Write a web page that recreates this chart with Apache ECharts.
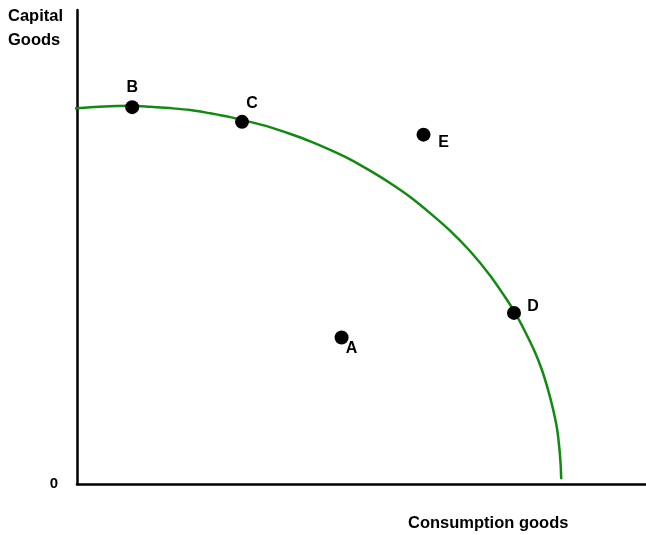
<!DOCTYPE html>
<html>
<head>
<meta charset="utf-8">
<script src="https://cdn.jsdelivr.net/npm/echarts@6/dist/echarts.min.js"></script>
<style>
html,body{margin:0;padding:0;background:#fff;}
#chart{width:646px;height:535px;}
</style>
</head>
<body>
<div id="chart"></div>
<script>
// Production possibility frontier (axes 0-100)
const curveX = [-0.5, 2.3, 5.8, 9.7, 12.8, 16.3, 19.9, 23.4, 26.9, 30.4, 33.9, 37.4, 41.0, 44.5, 48.0, 51.5, 55.0, 58.5, 62.0, 65.6, 69.1, 72.6, 75.2, 76.8, 78.6, 80.3, 81.7, 82.8, 83.7, 84.4, 84.8, 85.0, 85.1];
const curveY = [79.2, 79.5, 79.7, 79.8, 79.6, 79.3, 78.9, 78.2, 77.4, 76.4, 75.3, 73.9, 72.3, 70.5, 68.5, 66.1, 63.5, 60.6, 57.2, 53.4, 49.1, 44.0, 39.5, 36.5, 32.5, 28.3, 24.1, 19.8, 15.6, 11.4, 7.2, 4.0, 1.0];

const pointNames = ['B', 'C', 'E', 'D', 'A'];
const pointX = [9.7, 29.0, 60.9, 76.8, 46.5];
const pointY = [79.5, 76.4, 73.7, 36.1, 30.9];

const yTickLabels = ['0'];
const yAxisTitle = 'Capital\nGoods';
const xAxisTitle = 'Consumption goods';

// label placement (style only)
const labelOffsets = { B: [0, -20], C: [10, -18], E: [20, 8], D: [19, -6], A: [10, 11] };

const FONT = "'Liberation Sans', Arial, Helvetica, sans-serif";

const chart = echarts.init(document.getElementById('chart'), null, { renderer: 'canvas' });

const curveData = curveX.map((x, i) => [x, curveY[i]]);
const pointData = pointNames.map((n, i) => ({
  name: n,
  value: [pointX[i], pointY[i]],
  label: { offset: labelOffsets[n] }
}));

chart.setOption({
  animation: false,
  backgroundColor: '#ffffff',
  grid: { left: 77, right: 0, top: 10, bottom: 51, containLabel: false },
  xAxis: {
    type: 'value', min: 0, max: 100,
    axisLine: { show: true, lineStyle: { color: '#000', width: 2.5 } },
    axisTick: { show: false },
    axisLabel: { show: false },
    splitLine: { show: false }
  },
  yAxis: {
    type: 'value', min: 0, max: 100, interval: 100,
    axisLine: { show: true, lineStyle: { color: '#000', width: 2.5 } },
    axisTick: { show: false },
    axisLabel: {
      show: true, margin: 19, color: '#000',
      fontFamily: FONT, fontWeight: 'bold', fontSize: 15,
      padding: [4, 0, 0, 0],
      formatter: v => (v === 0 ? yTickLabels[0] : '')
    },
    splitLine: { show: false }
  },
  graphic: [
    {
      type: 'text', left: 8, top: 4,
      style: { text: yAxisTitle, font: "bold 16.5px " + FONT, fill: '#000', lineHeight: 24 }
    },
    {
      type: 'text', left: 408, top: 515,
      style: { text: xAxisTitle, font: "bold 16.5px " + FONT, fill: '#000' }
    }
  ],
  series: [
    {
      type: 'line',
      data: curveData,
      smooth: 0.3,
      showSymbol: false,
      clip: false,
      lineStyle: { color: '#128a12', width: 2.5 },
      z: 2
    },
    {
      type: 'scatter',
      data: pointData,
      symbol: 'circle',
      symbolSize: 14,
      itemStyle: { color: '#000', opacity: 1 },
      label: {
        show: true,
        position: 'inside',
        formatter: p => p.name,
        color: '#000',
        fontFamily: FONT,
        fontWeight: 'bold',
        fontSize: 16
      },
      z: 3
    }
  ]
});
</script>
</body>
</html>
